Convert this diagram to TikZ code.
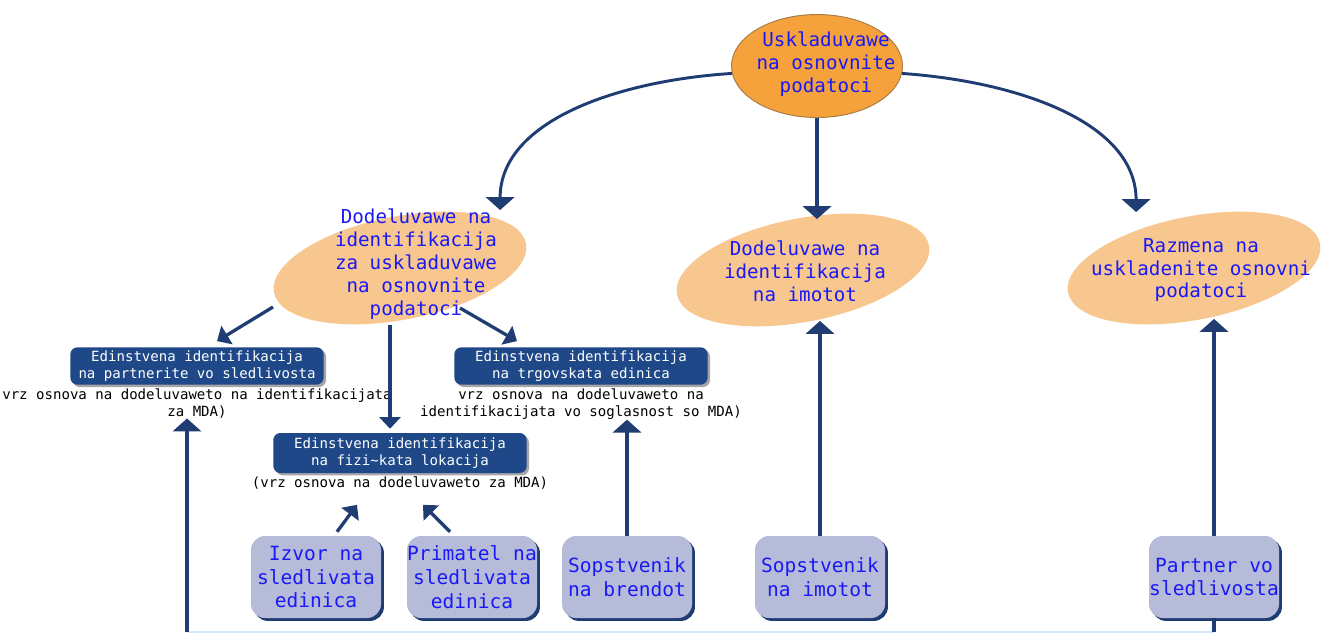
\documentclass[tikz,border=0pt]{standalone}
\usepackage{fontspec}
\setmonofont{DejaVu Sans Mono}
\usepackage{xcolor}
\usetikzlibrary{shapes.geometric,arrows.meta,positioning,shadows}
\definecolor{navy}{HTML}{1F3D73}
\definecolor{boxblue}{HTML}{1E4888}
\definecolor{lilac}{HTML}{B7BBDA}
\definecolor{peach}{HTML}{F8C78F}
\definecolor{orng}{HTML}{F5A23C}
\definecolor{orngline}{HTML}{A87A45}
\definecolor{txtblue}{HTML}{1919F5}
\definecolor{paleblue}{HTML}{D6E8F7}
\newcommand{\mfs}[2]{\ttfamily\fontsize{#1}{#2}\selectfont}

\begin{document}
\begin{tikzpicture}[x=0.03cm,y=-0.03cm,
    peachell/.style={ellipse,fill=peach,inner sep=0,minimum width=7.7cm,minimum height=3.1cm,rotate=11},
    elltext/.style={text=txtblue,align=center,font=\mfs{16.4pt}{19.6pt},inner sep=0},
    idbox/.style={rounded corners=6pt,fill=boxblue,text=white,align=center,font=\mfs{12pt}{14.5pt},inner sep=0,
      minimum width=7.6cm,minimum height=1.12cm,drop shadow={shadow xshift=2pt,shadow yshift=-2pt,fill=black,opacity=0.35}},
    note/.style={align=center,font=\mfs{12pt}{14.5pt},inner sep=0},
    srcbox/.style={rounded corners=12pt,fill=lilac,text=txtblue,align=center,font=\mfs{16.7pt}{20.4pt},inner sep=0,
      minimum width=3.9cm,minimum height=2.46cm,drop shadow={shadow xshift=2.5pt,shadow yshift=-2.5pt,fill=navy,opacity=1}},
    arr/.style={draw=navy,line width=3pt,-{Triangle[width=24pt,length=11pt]}},
    arrsm/.style={draw=navy,line width=2.8pt,-{Triangle[width=18pt,length=10pt]}}]
  \useasboundingbox[fill=white] (0,0) rectangle (1329,633);

  \node[ellipse,fill=orng,draw=orngline,line width=0.8pt,inner sep=0,minimum width=5.13cm,minimum height=3.09cm] (usk) at (817,66) {};
  \node[elltext] (uskT) at (826,64) {Uskladuvawe\\na osnovnite\\podatoci};

  \node[peachell] (dodUsk) at (400,268) {};
  \node[elltext] (dodUskT) at (416,264) {Dodeluvawe na\\identifikacija\\za uskladuvawe\\na osnovnite\\podatoci};
  \node[peachell] (dodIme) at (803,270) {};
  \node[elltext] (dodImeT) at (805,271) {Dodeluvawe na\\identifikacija\\na imotot};
  \node[peachell] (razm) at (1194,268) {};
  \node[elltext] (razmT) at (1201,270) {Razmena na\\uskladenite osnovni\\podatoci};

  \node[idbox] (idPart) at (197,366) {Edinstvena identifikacija\\na partnerite vo sledlivosta};
  \node[note,below=3pt of idPart] (noteA) {vrz osnova na dodeluvaweto na identifikacijata\\za MDA)};
  \node[idbox] (idTrg) at (581,366) {Edinstvena identifikacija\\na trgovskata edinica};
  \node[note,below=3pt of idTrg] (noteB) {vrz osnova na dodeluvaweto na\\identifikacijata vo soglasnost so MDA)};
  \node[idbox,minimum height=1.2cm] (idLok) at (400,453) {Edinstvena identifikacija\\na fizi\textasciitilde kata lokacija};
  \node[note,below=3pt of idLok] (noteC) {(vrz osnova na dodeluvaweto za MDA)};

  \node[srcbox] (izvor) at (316,577) {Izvor na\\sledlivata\\edinica};
  \node[srcbox] (primat) at (472,577) {Primatel na\\sledlivata\\edinica};
  \node[srcbox] (sopBr) at (627,577) {Sopstvenik\\na brendot};
  \node[srcbox] (sopIm) at (820,577) {Sopstvenik\\na imotot};
  \node[srcbox] (partn) at (1214,577) {Partner vo\\sledlivosta};

  \coordinate (baseL) at (187,632);
  \coordinate (baseR) at (1214,632);

  \draw[paleblue,line width=2.5pt] (baseL) -- (baseR);
  \draw[arr,line width=2.5pt] (usk.185) .. controls +(-112,7) and +(0,-90) .. ([shift={(110,-7)}]dodUsk.north);
  \draw[arr,line width=2.5pt] (usk.355) .. controls +(115,8) and +(0,-90) .. ([shift={(-48,-5)}]razm.north);
  \draw[arr,line width=3.5pt] (usk.south) -- (usk.south |- dodIme.north);

  \draw[arrsm] ([shift={(-127,39)}]dodUsk.center) -- ([shift={(20,-6)}]idPart.north);
  \draw[arrsm] ([shift={(60,40)}]dodUsk.center) -- ([shift={(-64,-6)}]idTrg.north);
  \draw[arrsm] ([shift={(-10,57)}]dodUsk.center) -- ([shift={(-10,-4)}]idLok.north);

  \draw[arrsm] ([shift={(21,-4)}]izvor.north) -- ([shift={(-43,15)}]noteC.south);
  \draw[arrsm] ([shift={(-22,-4)}]primat.north) -- ([shift={(23,15)}]noteC.south);
  \draw[arr] (sopBr.north) -- (sopBr.north |- noteB.south);
  \draw[arr] (sopIm.north) -- (sopIm.north |- dodIme.south);
  \draw[arr] (partn.north) -- (partn.north |- razm.south);
  \draw[arr] (baseL) -- (baseL |- noteA.south);
  \draw[navy,line width=3pt] (partn.south) -- (partn.south |- baseR);
\end{tikzpicture}
\end{document}
